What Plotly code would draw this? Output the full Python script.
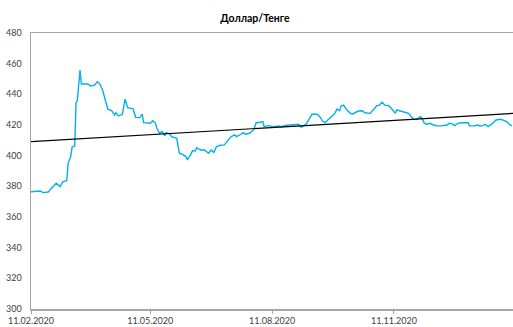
import numpy as np
import pandas as pd
import plotly.graph_objects as go

title_text = "Доллар/Тенге"
start_date = "2020-02-11"

# day offsets from 11.02.2020 and USD/KZT rate
day_offsets = [0, 7, 9, 13, 17, 19, 22, 24, 27, 28, 30, 31, 33, 34, 35, 37, 38, 43, 45, 48,
               50, 52, 54, 56, 58, 61, 63, 64, 66, 69, 71, 73, 77, 79, 82, 84, 85, 90, 92, 94,
               95, 97, 99, 101, 102, 105, 106, 110, 112, 115, 117, 118, 120, 122, 124, 125, 128, 131, 134, 136,
               138, 140, 143, 146, 149, 151, 154, 155, 159, 160, 162, 165, 168, 170, 173, 175, 176, 179, 183, 187,
               189, 193, 198, 202, 204, 206, 208, 211, 212, 216, 218, 220, 222, 224, 227, 229, 231, 233, 234, 236,
               238, 241, 243, 247, 250, 252, 256, 258, 261, 263, 265, 267, 270, 272, 275, 276, 278, 282, 285, 287,
               289, 291, 294, 295, 297, 299, 301, 304, 306, 310, 314, 316, 318, 320, 322, 325, 330, 331, 335, 337,
               339, 341, 343, 345, 348, 351, 354, 356, 359, 361, 363]
rates = [376.5, 377.0, 375.9, 376.3, 380.2, 382.0, 379.8, 383.0, 383.7, 395.0, 399.4, 405.5, 406.3, 434.2, 436.3, 455.9, 446.7, 446.7, 445.4, 446.0,
         448.2, 446.7, 442.8, 436.3, 430.3, 429.3, 426.5, 428.0, 425.9, 427.0, 436.8, 431.3, 430.6, 425.0, 424.8, 427.0, 421.5, 421.1, 422.8, 421.1,
         417.9, 414.6, 415.7, 413.0, 415.0, 414.1, 412.4, 411.3, 401.6, 400.5, 399.4, 397.2, 399.8, 403.3, 403.0, 405.2, 403.7, 403.7, 401.6, 403.7,
         402.0, 405.9, 406.8, 407.0, 410.2, 412.4, 413.5, 412.4, 414.1, 415.0, 414.0, 414.6, 416.8, 421.5, 421.8, 422.2, 418.9, 419.6, 418.9, 419.4,
         418.9, 419.8, 420.2, 420.5, 418.5, 420.0, 420.9, 425.4, 427.0, 427.0, 425.4, 422.6, 421.5, 423.3, 425.9, 427.2, 430.4, 429.3, 432.4, 433.0,
         430.3, 427.6, 427.2, 429.1, 429.3, 428.0, 427.6, 429.8, 432.6, 433.0, 434.8, 433.0, 432.6, 430.9, 427.6, 429.8, 429.2, 428.3, 427.6, 425.4,
         423.7, 423.7, 425.4, 424.4, 421.1, 420.5, 421.1, 420.0, 419.4, 419.4, 420.0, 421.1, 420.7, 419.6, 421.1, 421.5, 421.5, 419.4, 419.4, 420.0,
         419.4, 419.6, 420.5, 418.9, 420.7, 423.3, 423.7, 423.3, 422.2, 420.5, 419.4]

# linear trendline values at the start and the right edge
trend_offsets = [0, 364]
trend_values = [409.1, 427.6]

tick_dates = ["2020-02-11", "2020-05-11", "2020-08-11", "2020-11-11"]
y_ticks = [300, 320, 340, 360, 380, 400, 420, 440, 460, 480]

start = pd.Timestamp(start_date)
dates = start + pd.to_timedelta(day_offsets, unit="D")
trend_dates = start + pd.to_timedelta(trend_offsets, unit="D")

fig = go.Figure()
fig.add_trace(go.Scatter(x=dates, y=rates, mode="lines",
                         line=dict(color="#00B0F0", width=1.4), hoverinfo="skip"))
fig.add_trace(go.Scatter(x=trend_dates, y=trend_values, mode="lines",
                         line=dict(color="#000000", width=1.2), hoverinfo="skip"))

fig.update_layout(
    width=513, height=327,
    margin=dict(l=31, r=0, t=33, b=18, autoexpand=False),
    paper_bgcolor="white", plot_bgcolor="white",
    showlegend=False,
    font=dict(family="Lato, Open Sans, sans-serif", size=9, color="#404040"),
    title=dict(text="<b>" + title_text + "</b>", x=0.497, xanchor="center", y=0.945, yanchor="middle",
               font=dict(size=10.5, color="#000000")),
    xaxis=dict(
        range=[start, pd.Timestamp("2021-02-08 20:00")],
        tickvals=pd.to_datetime(tick_dates), ticktext=[pd.Timestamp(d).strftime("%d.%m.%Y") for d in tick_dates],
        showgrid=False, zeroline=False, automargin=False,
        showline=True, linecolor="#A6A6A6", linewidth=1.5, mirror=True,
        ticks="outside", ticklen=3, tickcolor="#A6A6A6",
    ),
    yaxis=dict(
        range=[300, 480], tickvals=y_ticks, automargin=False,
        showgrid=False, zeroline=False,
        showline=True, linecolor="#A6A6A6", linewidth=1.5,
        ticks="", ticklabelstandoff=6,
    ),
)

fig.write_html("out.html", config={"displayModeBar": False, "staticPlot": True},
               post_script="document.body.style.margin='0';document.body.style.overflow='hidden';")
